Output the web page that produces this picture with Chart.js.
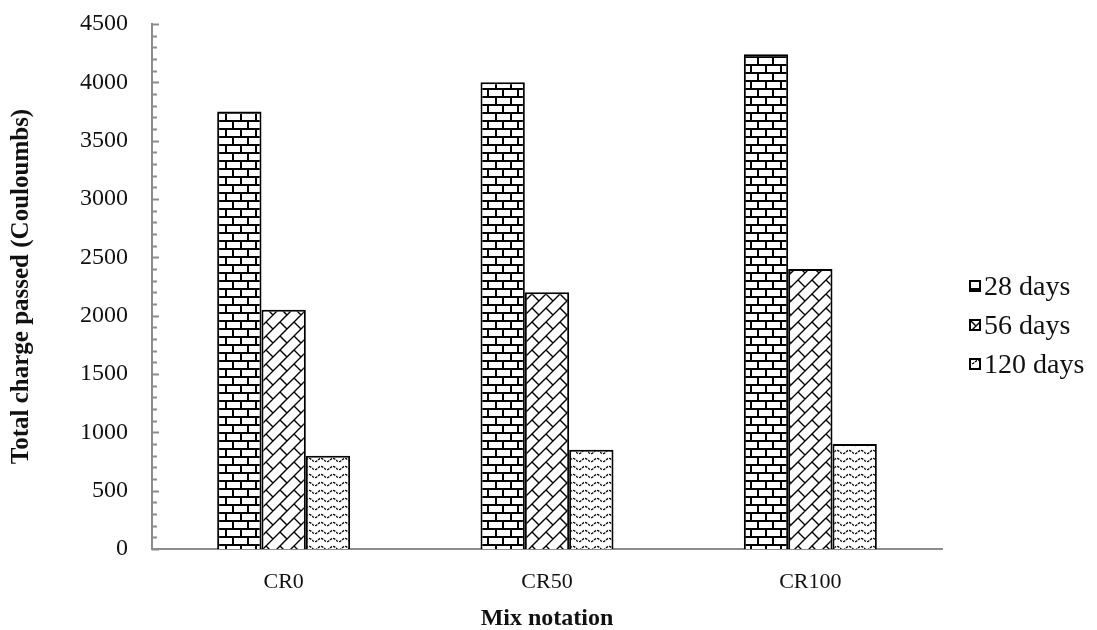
<!DOCTYPE html>
<html>
<head>
<meta charset="utf-8">
<script src="https://cdn.jsdelivr.net/npm/chart.js@4.4.1/dist/chart.umd.min.js"></script>
<style>
  html, body { margin: 0; padding: 0; background: #fff; }
  #wrap { position: relative; width: 1097px; height: 630px; }
  #legend { position: absolute; left: 969px; top: 266px; font-family: 'Liberation Serif', 'Times New Roman', serif; font-size: 28px; color: #111; }
  #legend .item { display: flex; align-items: center; height: 39px; }
  #legend canvas { width: 12px; height: 12px; margin-right: 3px; }
</style>
</head>
<body>
<div id="wrap">
  <canvas id="chart" width="1097" height="630"></canvas>
  <div id="legend"></div>
</div>
<script>
// data
const categories = ['CR0', 'CR50', 'CR100'];
const seriesNames = ['28 days', '56 days', '120 days'];
const days28 = [3750, 4000, 4240];
const days56 = [2050, 2200, 2400];
const days120 = [800, 850, 900];
const yTicks = [0, 500, 1000, 1500, 2000, 2500, 3000, 3500, 4000, 4500];

/**
 * Hatch patterns, drawn on small offscreen canvases
 */
function brickPattern(ctx) {
  const c = document.createElement('canvas');
  c.width = 30; c.height = 16;
  const g = c.getContext('2d');
  g.fillStyle = '#fff';
  g.fillRect(0, 0, 30, 16);
  g.fillStyle = '#000';
  g.fillRect(0, 0, 30, 2);
  g.fillRect(0, 8, 30, 2);
  // staggered joints
  g.fillRect(0, 0, 2, 8);
  g.fillRect(15, 0, 2, 8);
  g.fillRect(7, 8, 2, 8);
  g.fillRect(22, 8, 2, 8);
  return ctx.createPattern(c, 'repeat');
}

// diagonal bricks: "/" lines with staggered "\" joints
function diagonalPattern(ctx) {
  const s = 14;
  const T = 2 * s;
  const c = document.createElement('canvas');
  c.width = T; c.height = T;
  const g = c.getContext('2d');
  g.fillStyle = '#fff';
  g.fillRect(0, 0, T, T);
  g.strokeStyle = '#000';
  g.lineWidth = 1.4;
  g.beginPath();
  const pt = (u, v) => [(u + v) / 2, (u - v) / 2];
  for (let k = -4; k <= 8; k++) {
    // the "/" line u = k*s
    let a = pt(k * s, -6 * s), b = pt(k * s, 6 * s);
    g.moveTo(a[0], a[1]); g.lineTo(b[0], b[1]);
    // joints in band [k*s, (k+1)*s]
    for (let m = -4; m <= 4; m++) {
      const v = (((k % 2) + 2) % 2) * s + m * 2 * s;
      a = pt(k * s, v); b = pt((k + 1) * s, v);
      g.moveTo(a[0], a[1]); g.lineTo(b[0], b[1]);
    }
  }
  g.stroke();
  return ctx.createPattern(c, 'repeat');
}

function wavePattern(ctx) {
  const c = document.createElement('canvas');
  c.width = 12; c.height = 8;
  const g = c.getContext('2d');
  g.fillStyle = '#fff';
  g.fillRect(0, 0, 12, 8);
  g.strokeStyle = '#000';
  g.lineWidth = 1.3;
  g.setLineDash([2.5, 1]);
  g.beginPath();
  for (let x = 0; x <= 12; x += 0.5) {
    const y = 4 + 1.6 * Math.sin(x / 12 * Math.PI * 2);
    if (x === 0) g.moveTo(x, y); else g.lineTo(x, y);
  }
  g.stroke();
  return ctx.createPattern(c, 'repeat');
}

const canvas = document.getElementById('chart');
const ctx = canvas.getContext('2d');
const patterns = [brickPattern(ctx), diagonalPattern(ctx), wavePattern(ctx)];
const seriesData = [days28, days56, days120];

// minor tick marks every 100 on the inside of the y axis
const minorTicks = {
  id: 'minorTicks',
  afterDraw(chart) {
    const y = chart.scales.y;
    const x0 = chart.chartArea.left;
    const c = chart.ctx;
    c.save();
    c.strokeStyle = '#8c8c8c';
    c.lineWidth = 2;
    c.beginPath();
    for (let v = 0; v <= 4500; v += 100) {
      const py = Math.round(y.getPixelForValue(v)) + 0.5;
      const len = (v % 500 === 0) ? 7 : 5;
      c.moveTo(x0, py);
      c.lineTo(x0 + len, py);
    }
    c.stroke();
    c.restore();
  }
};

const serif = "'Liberation Serif', 'Times New Roman', serif";

new Chart(canvas, {
  type: 'bar',
  data: {
    labels: categories,
    datasets: seriesNames.map((name, i) => ({
      label: name,
      data: seriesData[i],
      backgroundColor: patterns[i],
      borderColor: '#000',
      borderWidth: 2,
      categoryPercentage: 0.505,
      barPercentage: 1.0
    }))
  },
  options: {
    responsive: false,
    animation: false,
    layout: { padding: { left: 0, right: 155, top: 24, bottom: 0 } },
    plugins: {
      legend: { display: false },
      tooltip: { enabled: false }
    },
    scales: {
      x: {
        afterFit: (scale) => { scale.height = 81; },
        grid: { display: false },
        border: { display: true, color: '#8c8c8c', width: 2 },
        ticks: {
          color: '#111',
          padding: 12,
          font: { family: serif, size: 22 }
        },
        title: {
          display: true,
          text: 'Mix notation',
          color: '#111',
          padding: { top: 0, bottom: -3 },
          font: { family: serif, size: 24, weight: 'bold' }
        }
      },
      y: {
        min: 0,
        max: 4500,
        afterBuildTicks: (scale) => {
          scale.ticks = yTicks.map(v => ({ value: v }));
        },
        afterFit: (scale) => {
          scale.width = 152;
          scale.paddingTop = 0;
          scale.paddingBottom = 0;
        },
        grid: { display: false },
        border: { display: true, color: '#8c8c8c', width: 2 },
        ticks: {
          color: '#111',
          padding: 16,
          callback: (v) => String(v),
          font: { family: serif, size: 24 }
        },
        title: {
          display: true,
          text: 'Total charge passed (Couloumbs)',
          color: '#111',
          padding: { top: 7, bottom: 0 },
          font: { family: serif, size: 25, weight: 'bold' }
        }
      }
    }
  },
  plugins: [minorTicks]
});

// legend as html, swatches use the same patterns
const legendEl = document.getElementById('legend');
seriesNames.forEach((name, i) => {
  const item = document.createElement('div');
  item.className = 'item';
  const sw = document.createElement('canvas');
  sw.width = 12; sw.height = 12;
  const sctx = sw.getContext('2d');
  sctx.fillStyle = [brickPattern, diagonalPattern, wavePattern][i](sctx);
  sctx.fillRect(0, 0, 12, 12);
  sctx.strokeStyle = '#000';
  sctx.lineWidth = 2;
  sctx.strokeRect(1, 1, 10, 10);
  const label = document.createElement('span');
  label.textContent = name;
  item.appendChild(sw);
  item.appendChild(label);
  legendEl.appendChild(item);
});
</script>
</body>
</html>
